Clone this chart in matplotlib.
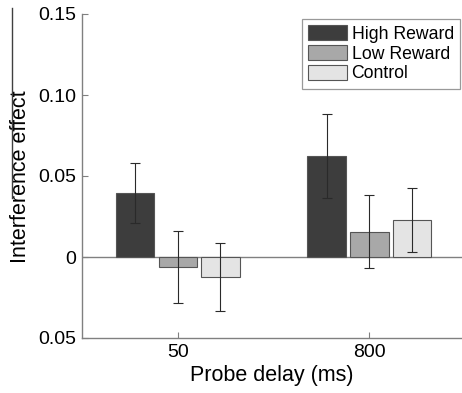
import matplotlib
matplotlib.use("Agg")
import matplotlib.pyplot as plt
import numpy as np
from matplotlib.lines import Line2D

plt.rcParams['font.family'] = ['Liberation Sans', 'DejaVu Sans']

categories = ["50", "800"]
series_names = ["High Reward", "Low Reward", "Control"]
high = [0.0395, 0.0625]
low = [-0.006, 0.0155]
control = [-0.0123, 0.0231]
high_err = [0.0185, 0.026]
low_err = [0.0222, 0.0225]
control_err = [0.0208, 0.0198]
ytick_vals = [-0.05, 0, 0.05, 0.10, 0.15]
ytick_labels = ["0.05", "0", "0.05", "0.10", "0.15"]

colors = ["#3d3d3d", "#a8a8a8", "#e4e4e4"]

fig = plt.figure(figsize=(4.62, 3.93), dpi=100)
ax = fig.add_axes([82/462, 1-338/393, 1-82/462, (338-14)/393])

x = np.arange(1, len(categories)+1)
width = 0.201
step = 0.223
data = [high, low, control]
errs = [high_err, low_err, control_err]
for i, (vals, err, c, name) in enumerate(zip(data, errs, colors, series_names)):
    ax.bar(x + (i-1)*step, vals, width, color=c, edgecolor="#555555",
           linewidth=0.8, label=name, zorder=2)
    ax.errorbar(x + (i-1)*step, vals, yerr=err, fmt='none', ecolor="#2a2a2a",
                elinewidth=0.8, capsize=3.5, capthick=0.8, zorder=3)

ax.axhline(0, color="#808080", linewidth=1.0, zorder=1)
ax.set_xlim(0.5, 2.484)
ax.set_ylim(-0.05, 0.15)
ax.set_xticks(x)
ax.set_xticklabels(categories)
ax.set_yticks(ytick_vals)
ax.set_yticklabels(ytick_labels)
ax.tick_params(direction='in', length=4, width=0.8, color="#808080",
               labelsize=14, pad=4)
for s in ['top', 'right']:
    ax.spines[s].set_visible(False)
for s in ['left', 'bottom']:
    ax.spines[s].set_color("#808080")
    ax.spines[s].set_linewidth(1.0)

ax.set_xlabel("Probe delay (ms)", fontsize=15.5, labelpad=3)
ax.set_ylabel("Interference effect", fontsize=15.5)
ax.yaxis.set_label_coords(31/462, 1-177/393, transform=fig.transFigure)

leg = ax.legend(loc='upper right', fontsize=12.7, frameon=True, fancybox=False,
                edgecolor="#808080", handlelength=2.2, handleheight=0.95,
                borderpad=0.35, labelspacing=0.12, handletextpad=0.25,
                borderaxespad=0.0, bbox_to_anchor=(460/462, 1-19/393),
                bbox_transform=fig.transFigure)
leg.get_frame().set_linewidth(0.9)

fig.add_artist(Line2D([12/462, 12/462], [1-8/393, 1-198/393],
                      color="#404040", linewidth=1.0))

fig.savefig("out.png", dpi=100)
